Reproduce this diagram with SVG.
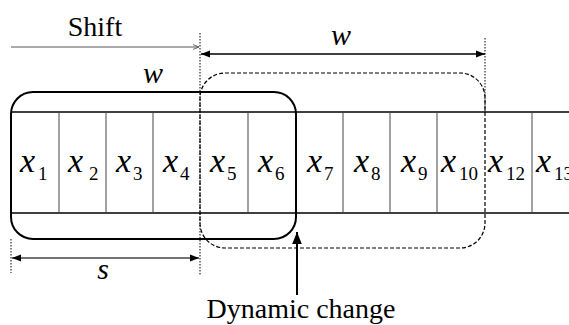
<svg xmlns="http://www.w3.org/2000/svg" width="569" height="325" viewBox="0 0 569 325">
<style>
.lbl{font-size:28px;fill:#000}
.var{font-style:italic;font-size:34px;fill:#000}
.sub{font-style:normal;font-size:19px}
.mv{font-style:italic;font-size:30px;fill:#000}
.hl{stroke:#000;stroke-width:1.5;fill:none}
.sep{stroke:#444;stroke-width:1;fill:none}
.dot{stroke:#000;stroke-width:1;stroke-dasharray:1.5 1.5;fill:none}
</style>
<defs>
<marker id="ah" viewBox="0 0 10 10" refX="10" refY="5" markerWidth="6" markerHeight="6" orient="auto-start-reverse">
<path d="M0,1 L10,5 L0,9 z" fill="#000"/>
</marker>
<marker id="ahg" viewBox="0 0 10 10" refX="10" refY="5" markerWidth="6" markerHeight="6" orient="auto-start-reverse">
<path d="M0,1 L10,5 L0,9" fill="none" stroke="#555" stroke-width="1.5"/>
</marker>
</defs>
<g id="table">
<line class="hl" x1="11" y1="112" x2="569" y2="112"/>
<line class="hl" x1="11" y1="213" x2="569" y2="213"/>
<line class="sep" x1="59" y1="112" x2="59" y2="213"/>
<line class="sep" x1="106" y1="112" x2="106" y2="213"/>
<line class="sep" x1="153" y1="112" x2="153" y2="213"/>
<line class="sep" x1="248" y1="112" x2="248" y2="213"/>
<line class="sep" x1="343" y1="112" x2="343" y2="213"/>
<line class="sep" x1="390" y1="112" x2="390" y2="213"/>
<line class="sep" x1="437" y1="112" x2="437" y2="213"/>
<line class="sep" x1="532" y1="112" x2="532" y2="213"/>
</g>
<g id="cells" font-family="Liberation Serif, Times New Roman, serif">
<text class="var" x="20" y="172">x<tspan class="sub" x="38" y="180">1</tspan></text>
<text class="var" x="68" y="172">x<tspan class="sub" x="89" y="180">2</tspan></text>
<text class="var" x="116" y="172">x<tspan class="sub" x="133" y="180">3</tspan></text>
<text class="var" x="163" y="172">x<tspan class="sub" x="180" y="180">4</tspan></text>
<text class="var" x="210" y="172">x<tspan class="sub" x="227" y="180">5</tspan></text>
<text class="var" x="258" y="172">x<tspan class="sub" x="275" y="180">6</tspan></text>
<text class="var" x="307" y="172">x<tspan class="sub" x="324" y="180">7</tspan></text>
<text class="var" x="354" y="172">x<tspan class="sub" x="371" y="180">8</tspan></text>
<text class="var" x="401" y="172">x<tspan class="sub" x="418" y="180">9</tspan></text>
<text class="var" x="441" y="172">x<tspan class="sub" x="459" y="180">10</tspan></text>
<text class="var" x="488" y="172">x<tspan class="sub" x="506" y="180">12</tspan></text>
<text class="var" x="536" y="172">x<tspan class="sub" x="554" y="180">13</tspan></text>
</g>
<g id="window1">
<rect x="11" y="92" width="285" height="147" rx="22" ry="22" fill="none" stroke="#000" stroke-width="2"/>
</g>
<g id="window2">
<rect x="200" y="73" width="285" height="175" rx="25" ry="25" fill="none" stroke="#000" stroke-width="1.2" stroke-dasharray="4 2"/>
</g>
<g id="guides">
<line class="dot" x1="200" y1="33" x2="200" y2="275"/>
<line class="dot" x1="485" y1="38" x2="485" y2="112"/>
<line class="dot" x1="11" y1="239" x2="11" y2="273"/>
</g>
<g id="connectors">
<line x1="11" y1="47" x2="199" y2="47" stroke="#555" stroke-width="1" marker-end="url(#ahg)"/>
<line x1="201" y1="54" x2="485" y2="54" stroke="#000" stroke-width="1.5" marker-start="url(#ah)" marker-end="url(#ah)"/>
<line x1="12" y1="258" x2="199" y2="258" stroke="#444" stroke-width="1.5" marker-start="url(#ah)" marker-end="url(#ah)"/>
<line x1="297" y1="295" x2="297" y2="232" stroke="#000" stroke-width="2" marker-end="url(#ah)"/>
</g>
<g id="labels" font-family="Liberation Serif, Times New Roman, serif">
<text class="lbl" x="95" y="36" text-anchor="middle">Shift</text>
<text class="mv" x="341" y="45" text-anchor="middle">w</text>
<text class="mv" x="153" y="83" text-anchor="middle">w</text>
<text class="mv" x="103" y="279" text-anchor="middle">s</text>
<text class="lbl" x="301" y="318" text-anchor="middle">Dynamic change</text>
</g>
</svg>
